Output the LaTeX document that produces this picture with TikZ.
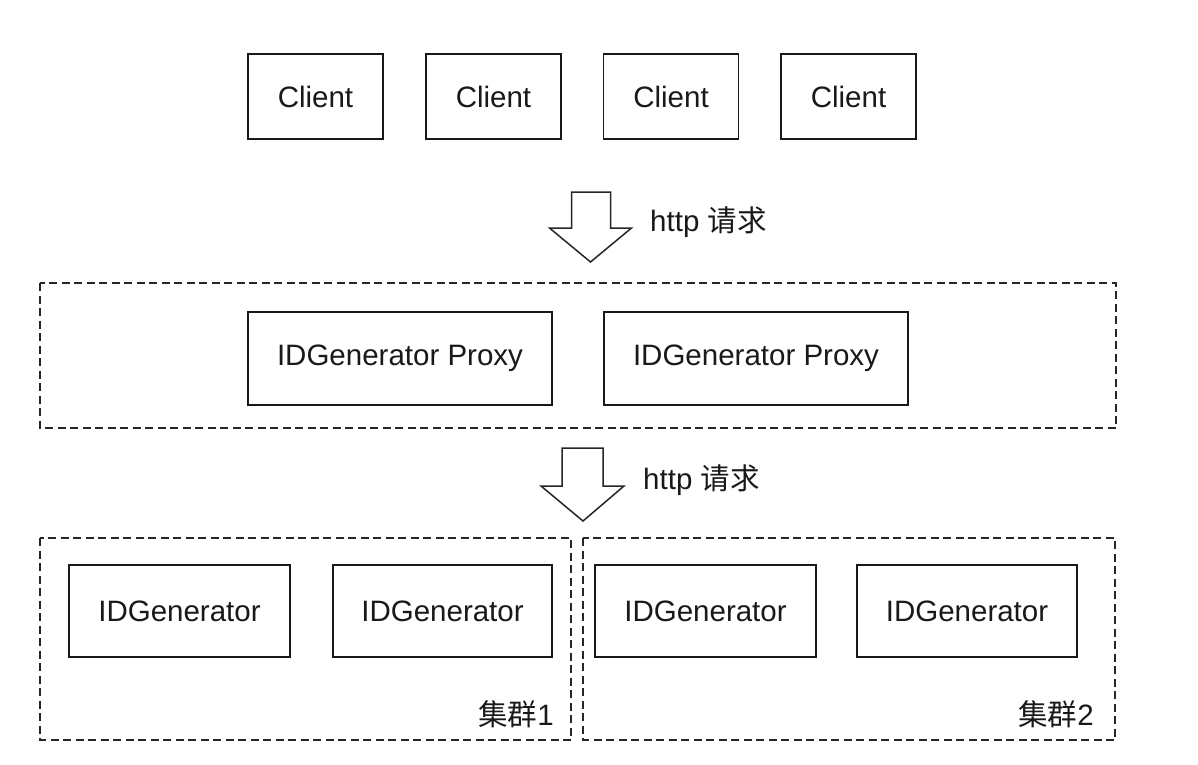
\documentclass[tikz,border=0pt]{standalone}
\usepackage{fontspec}
\setmainfont{Liberation Sans}
\newfontfamily\cjk{Noto Sans CJK SC}
\begin{document}
\begin{tikzpicture}[x=1pt,y=-1pt,
  box/.style={draw=black!90,line width=1.8pt,fill=white,inner sep=0pt,
    font=\fontsize{29.5}{34}\selectfont,text=black!90},
  group/.style={draw=black!85,line width=1.5pt,dash pattern=on 8pt off 4.5pt},
  blockarrow/.style={draw=black!85,line width=1.5pt,fill=white,line join=miter},
  lbl/.style={inner sep=0pt,font=\fontsize{29.5}{34}\selectfont,text=black!90}]
\useasboundingbox (0,0) rectangle (1198,764);
\fill[white] (0,0) rectangle (1198,764);
% clients
\node[box,minimum width=135pt,minimum height=85pt] (c1) at (315.5,96.5) {Client};
\node[box,minimum width=135pt,minimum height=85pt] (c2) at (493.5,96.5) {Client};
\node[box,minimum width=135pt,minimum height=85pt] (c3) at (671,96.5) {Client};
\node[box,minimum width=135pt,minimum height=85pt] (c4) at (848.5,96.5) {Client};
% block arrow 1
\coordinate (a1) at (590.5,262);
\draw[blockarrow] (a1) -- ++(-41,-34) -- ++(22,0) -- ++(0,-36) -- ++(39,0) -- ++(0,36) -- ++(21,0) -- cycle;
\node[lbl,anchor=west] (l1) at (650,222) {http {\cjk 请求}};
% proxy group
\draw[group] (40,283) rectangle (1116,428);
\node[box,minimum width=304pt,minimum height=93pt] (p1) at (400,358.5) {IDGenerator Proxy};
\node[box,minimum width=304pt,minimum height=93pt] (p2) at (756,358.5) {IDGenerator Proxy};
% block arrow 2
\coordinate (a2) at (583,521);
\draw[blockarrow] (a2) -- ++(-42,-35) -- ++(21,0) -- ++(0,-38) -- ++(41,0) -- ++(0,38) -- ++(21,0) -- cycle;
\node[lbl,anchor=west] (l2) at (643,480) {http {\cjk 请求}};
% clusters
\draw[group] (40,538) rectangle (571,740);
\draw[group] (583,538) rectangle (1115,740);
\node[box,minimum width=221pt,minimum height=92pt] (g1) at (179.5,611) {IDGenerator};
\node[box,minimum width=219pt,minimum height=92pt] (g2) at (442.5,611) {IDGenerator};
\node[box,minimum width=221pt,minimum height=92pt] (g3) at (705.5,611) {IDGenerator};
\node[box,minimum width=220pt,minimum height=92pt] (g4) at (967,611) {IDGenerator};
\node[lbl,anchor=east] (k1) at (554,714) {{\cjk 集群}1};
\node[lbl,anchor=east] (k2) at (1094,714) {{\cjk 集群}2};
\end{tikzpicture}
\end{document}
